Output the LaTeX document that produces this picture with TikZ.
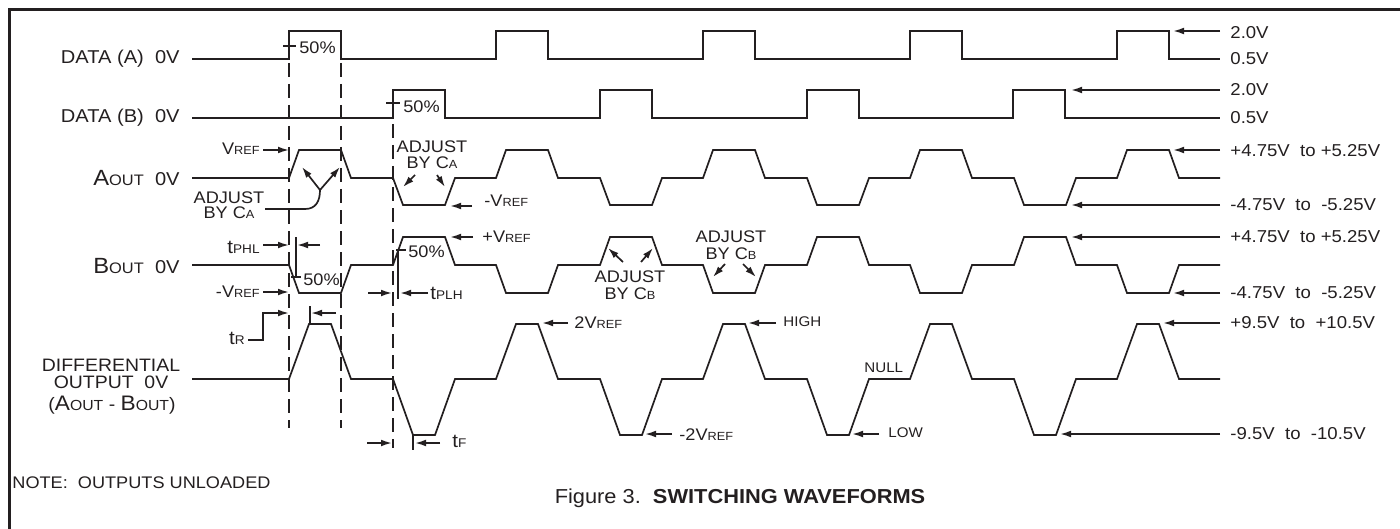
\documentclass[tikz,border=0pt]{standalone}
\usepackage{fontspec}
\setmainfont{Liberation Sans}[FakeStretch=1.08]
\usetikzlibrary{arrows.meta}
\definecolor{ink}{HTML}{231F20}
\newcommand\fs[1]{\fontsize{#1}{#1}\selectfont}
\newcommand\smc[1]{{\fs{5.9}#1}}
\newcommand\tsub[1]{{\fs{9.5}t}{\fs{6.3}#1}}
\newcommand\vref{V\smc{REF}}
\begin{document}
\begin{tikzpicture}[x=0.5pt,y=-0.5pt,
  wave/.style={draw=ink,line width=0.85pt,line join=miter},
  arr/.style={draw=ink,line width=0.85pt,-{Latex[length=5.5pt,width=3.4pt]}},
  plain/.style={draw=ink,line width=0.85pt},
  guide/.style={draw=ink,line width=0.85pt,dash pattern=on 7pt off 3.5pt},
  lbl/.style={inner sep=0pt,text=ink,font=\fs{9.3}},
  ann/.style={inner sep=0pt,text=ink,font=\fs{8.4}},
  rlab/.style={inner sep=0pt,text=ink,font=\fs{8.6},anchor=west},
  tinylbl/.style={inner sep=0pt,text=ink,font=\fs{7}},
]
\useasboundingbox (0,0) rectangle (1400,529);
% frame
\draw[ink,line width=1.5pt] (9,540) -- (9,10) -- (1410,10);

% waveforms
\draw[wave] (192,59) \foreach \s in {289,496,703,910,1117}{ -- (\s,59) -- (\s,31) -- (\s+52,31) -- (\s+52,59)} -- (1220,59);
\draw[wave] (192,118) \foreach \s in {393,600,807,1013}{ -- (\s,118) -- (\s,90) -- (\s+52,90) -- (\s+52,118)} -- (1220,118);
\draw[wave] (192,178) \foreach \s in {289,496,703,910}{ -- (\s,178) -- (\s+10,150) -- (\s+52,150) -- (\s+62,178) -- (\s+104,178) -- (\s+114,205) -- (\s+156,205) -- (\s+166,178)} -- (1117,178) -- (1127,150) -- (1169,150) -- (1179,178) -- (1220,178);
\draw[wave] (192,265) \foreach \s in {289,496,703,910}{ -- (\s,265) -- (\s+10,293) -- (\s+52,293) -- (\s+62,265) -- (\s+104,265) -- (\s+114,237) -- (\s+156,237) -- (\s+166,265)} -- (1117,265) -- (1127,293) -- (1169,293) -- (1179,265) -- (1220,265);
\draw[wave] (192,379) \foreach \s in {289,496,703,910}{ -- (\s,379) -- (\s+20,324) -- (\s+42,324) -- (\s+62,379) -- (\s+104,379) -- (\s+124,435) -- (\s+146,435) -- (\s+166,379)} -- (1117,379) -- (1137,324) -- (1159,324) -- (1179,379) -- (1220,379);

% dashed guides
\draw[guide] (289,63) -- (289,428);
\draw[guide] (341,63) -- (341,428);
\draw[guide] (393,124) -- (393,448);

% row labels
\node[lbl,anchor=east] (la) at (180,59) {DATA (A)\ \ 0V};
\node[lbl,anchor=east] (lb) at (180,118) {DATA (B)\ \ 0V};
\node[lbl,anchor=east] (lao) at (180,178) {{\fs{11}A}{\fs{7.6}OUT}\ \ 0V};
\node[lbl,anchor=east] (lbo) at (180,266) {{\fs{11}B}{\fs{7.6}OUT}\ \ 0V};
\node[lbl,anchor=center,font=\fs{9}] (ld1) at (111,365) {DIFFERENTIAL};
\node[lbl,anchor=center,font=\fs{9}] (ld2) at (111,382) {OUTPUT\ \ 0V};
\node[lbl,anchor=center,font=\fs{9}] (ld3) at (112,405) {({\fs{10.5}A}{\fs{7.3}OUT} - {\fs{10.5}B}{\fs{7.3}OUT})};
\node[lbl,anchor=west,font=\fs{8.4}] (note) at (12,483) {NOTE:\ \ OUTPUTS UNLOADED};
\node[lbl,font=\fs{10.1}] (cap) at (740,498) {Figure 3.\ \ \textbf{SWITCHING WAVEFORMS}};

% 50% marks on data
\draw[plain] (283,46) -- (296,46);
\node[ann,anchor=west] (pa) at (299,48) {50\%};
\draw[plain] (386,103) -- (400,103);
\node[ann,anchor=west] (pb) at (403,107) {50\%};

% Aout annotations
\node[ann,anchor=east] (vr1) at (260,149) {\vref};
\draw[arr] (263,150) -- (289,150);
\node[ann,align=center,font={\fontsize{8.4}{7.6}\selectfont}] (adjA1) at (229,205) {ADJUST\\BY C\smc{A}};
\draw[plain] (265,209) -- (305,209) .. controls (316,209) and (320,201) .. (320,190);
\coordinate (fork) at (320,190);
\draw[arr] (fork) -- (302,167);
\draw[arr] (fork) -- (340,167);
\node[ann,align=center,font={\fontsize{8.4}{8}\selectfont}] (adjA2) at (432,155) {ADJUST\\BY C\smc{A}};
\draw[arr] (415,175) -- (403,187);
\draw[arr] (437,175) -- (445,187);
\node[ann,anchor=west] (mvr) at (484,201) {-\vref};
\draw[arr] (472,206) -- (450,206);

% Bout annotations
\node[ann,anchor=east] (tphl) at (260,247) {\tsub{PHL}};
\draw[arr] (263,245) -- (289,245);
\draw[plain] (296,237) -- (296,278);
\draw[arr] (320,245) -- (297,245);
\draw[plain] (291,277) -- (301,277);
\node[ann,anchor=west] (pc) at (303,280) {50\%};
\node[ann,anchor=east] (mvr2) at (260,292) {-\vref};
\draw[arr] (263,292) -- (289,292);
\node[ann,anchor=west] (pvr) at (482,237) {+\vref};
\draw[arr] (473,237) -- (450,237);
\draw[plain] (396,250) -- (406,250);
\node[ann,anchor=west] (pd) at (408,252) {50\%};
\draw[arr] (368,293) -- (392,293);
\draw[plain] (398,251) -- (398,299);
\draw[arr] (428,293) -- (400,293);
\node[ann,anchor=west] (tplh) at (430,293) {\tsub{PLH}};
\node[ann,align=center,font={\fontsize{8.4}{8.5}\selectfont}] (adjB1) at (630,285) {ADJUST\\BY C\smc{B}};
\draw[arr] (623,262) -- (608,248);
\draw[arr] (641,262) -- (653,248);
\node[ann,align=center,font={\fontsize{8.4}{8.5}\selectfont}] (adjB2) at (731,245) {ADJUST\\BY C\smc{B}};
\draw[arr] (725,264) -- (713,277);
\draw[arr] (743,264) -- (756,277);

% differential annotations
\node[ann,anchor=east] (tr) at (245,338) {\tsub{R}};
\draw[arr] (248,340) -- (263,340) -- (263,313) -- (289,313);
\draw[plain] (310,306) -- (310,324);
\draw[arr] (336,313) -- (311,313);
\draw[arr] (367,443) -- (392,443);
\draw[plain] (413,435) -- (413,450);
\draw[arr] (440,443) -- (415,443);
\node[ann,anchor=west] (tf) at (452,441) {\tsub{F}};
\node[ann,anchor=west] (v2) at (574,323) {2\vref};
\draw[arr] (568,323) -- (542,323);
\node[ann,anchor=west] (mv2) at (679,435) {-2\vref};
\draw[arr] (672,434) -- (645,434);
\node[tinylbl,anchor=west] (hi) at (783,322) {HIGH};
\draw[arr] (776,323) -- (748,323);
\node[tinylbl,anchor=west] (lo) at (888,433) {LOW};
\draw[arr] (879,434) -- (852,434);
\node[tinylbl,anchor=west] (nu) at (864,368) {NULL};

% right labels
\node[rlab] (r1) at (1230,33) {2.0V};
\draw[arr] (1220,31) -- (1173,31);
\node[rlab] (r2) at (1230,59) {0.5V};
\node[rlab] (r3) at (1230,90) {2.0V};
\draw[arr] (1220,90) -- (1071,90);
\node[rlab] (r4) at (1230,118) {0.5V};
\node[rlab] (r5) at (1230,151) {+4.75V\ \ to +5.25V};
\draw[arr] (1220,150) -- (1173,150);
\node[rlab] (r6) at (1230,205) {-4.75V\ \ to\ \ -5.25V};
\draw[arr] (1220,205) -- (1071,205);
\node[rlab] (r7) at (1230,237) {+4.75V\ \ to +5.25V};
\draw[arr] (1220,237) -- (1071,237);
\node[rlab] (r8) at (1230,293) {-4.75V\ \ to\ \ -5.25V};
\draw[arr] (1220,293) -- (1173,293);
\node[rlab] (r9) at (1230,323) {+9.5V\ \ to\ \ +10.5V};
\draw[arr] (1220,323) -- (1163,323);
\node[rlab] (r10) at (1230,434) {-9.5V\ \ to\ \ -10.5V};
\draw[arr] (1220,434) -- (1060,434);
\end{tikzpicture}
\end{document}
